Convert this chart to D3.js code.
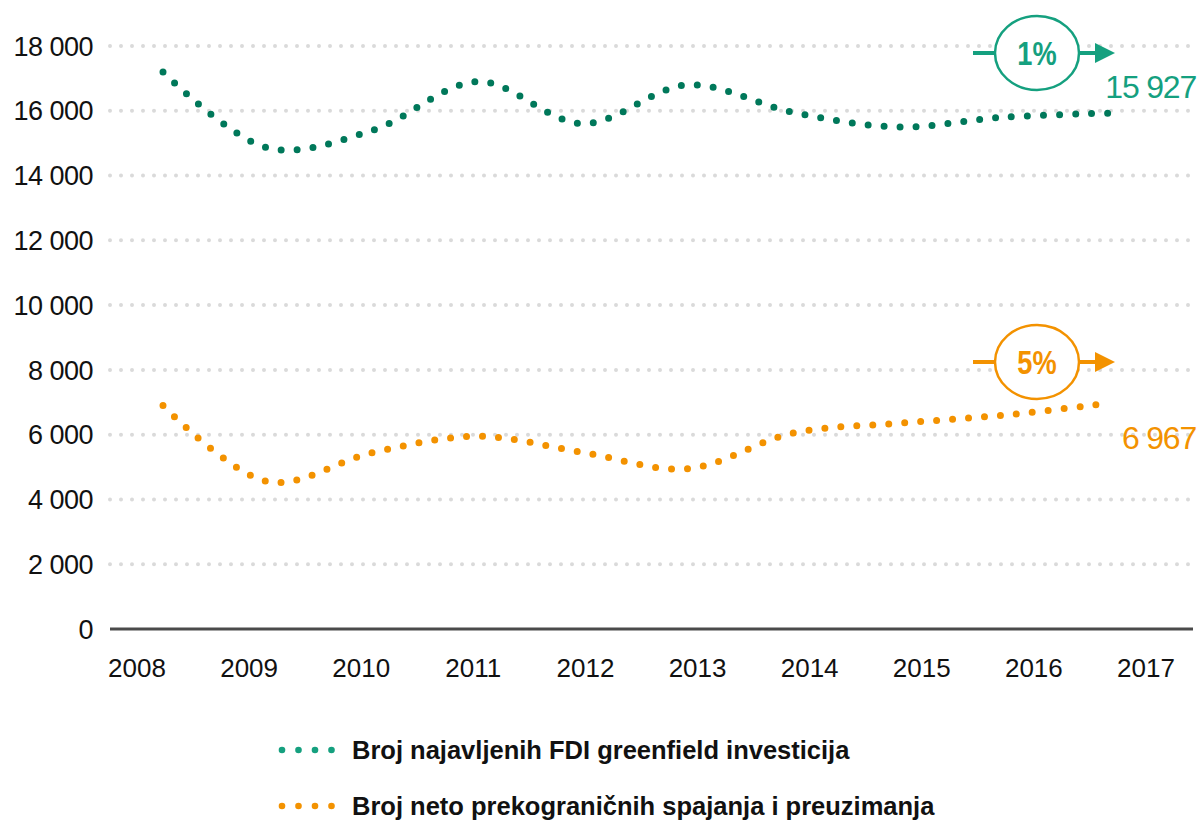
<!DOCTYPE html>
<html>

<head>
    <meta charset="UTF-8">
    <style>
        body { margin: 0; background: #fff; }
        text { font-family: "Liberation Sans", Arial, sans-serif; }
    </style>
</head>

<body>
    <div id="my_dataviz"></div>

    <script src="https://d3js.org/d3.v7.min.js"></script>
    <script>
        // data
        const years = [2008, 2009, 2010, 2011, 2012, 2013, 2014, 2015, 2016, 2017];
        const greenfield = [17200, 14850, 15400, 16900, 15600, 16800, 15950, 15500, 15800, 15927];
        const mergers = [6900, 4550, 5450, 5950, 5450, 4950, 6050, 6350, 6600, 6967];
        const yTicks = [0, 2000, 4000, 6000, 8000, 10000, 12000, 14000, 16000, 18000];
        const seriesNames = ["Broj najavljenih FDI greenfield investicija", "Broj neto prekograničnih spajanja i preuzimanja"];
        const growth = ["1%", "5%"];
        const lastLabels = ["15 927", "6 967"];

        const width = 1203, height = 821;
        const lineColors = ["#00785a", "#f39200"];
        const accentColors = ["#15a07f", "#f39200"];

        const svg = d3.select("#my_dataviz")
            .append("svg")
            .attr("width", width)
            .attr("height", height);

        const y = d3.scaleLinear().domain([0, 18000]).range([629, 46]);
        // where the points sit
        const x = d3.scalePoint().domain(years).range([163, 1108]);
        // where the year labels sit
        const xLab = d3.scalePoint().domain(years).range([137, 1146]);

        const fmt = v => d3.format(",")(v).replace(/,/g, " ");

        // grid
        svg.append("g")
            .selectAll("line")
            .data(yTicks.filter(d => d > 0))
            .enter().append("line")
            .attr("x1", 110).attr("x2", 1192)
            .attr("y1", d => y(d)).attr("y2", d => y(d))
            .attr("stroke", "#dadada")
            .attr("stroke-width", 4)
            .attr("stroke-linecap", "round")
            .attr("stroke-dasharray", "0,11");

        // y labels
        svg.append("g")
            .selectAll("text")
            .data(yTicks)
            .enter().append("text")
            .attr("x", 93)
            .attr("y", d => y(d))
            .attr("dy", "0.36em")
            .attr("text-anchor", "end")
            .style("font-size", "27px")
            .style("letter-spacing", "-0.5px")
            .attr("fill", "#111")
            .text(fmt);

        // baseline
        svg.append("line")
            .attr("x1", 110).attr("x2", 1193)
            .attr("y1", y(0)).attr("y2", y(0))
            .attr("stroke", "#4a4a4a")
            .attr("stroke-width", 3);

        // x labels
        svg.append("g")
            .selectAll("text")
            .data(years)
            .enter().append("text")
            .attr("x", d => xLab(d))
            .attr("y", 677)
            .attr("text-anchor", "middle")
            .style("font-size", "26px")
            .attr("fill", "#111")
            .text(d => d);

        // lines
        const line = d3.line()
            .x((d, i) => x(years[i]))
            .y(d => y(d))
            .curve(d3.curveCatmullRom.alpha(0.5));

        [greenfield, mergers].forEach((s, k) => {
            svg.append("path")
                .datum(s)
                .attr("d", line)
                .attr("fill", "none")
                .attr("stroke", lineColors[k])
                .attr("stroke-width", 7)
                .attr("stroke-linecap", "round")
                .attr("stroke-dasharray", "0,16");
        });

        // growth annotations
        const ann = [{ cy: 53 }, { cy: 362 }];
        ann.forEach((a, k) => {
            const g = svg.append("g").attr("transform", "translate(1037," + a.cy + ")");
            const c = accentColors[k];
            g.append("line").attr("x1", -64).attr("x2", -42).attr("y1", 0).attr("y2", 0)
                .attr("stroke", c).attr("stroke-width", 4);
            g.append("line").attr("x1", 42).attr("x2", 62).attr("y1", 0).attr("y2", 0)
                .attr("stroke", c).attr("stroke-width", 4);
            g.append("path").attr("d", "M58,-10 L78,0 L58,10 Z").attr("fill", c);
            g.append("ellipse").attr("rx", 42).attr("ry", 37)
                .attr("fill", "#fff").attr("stroke", c).attr("stroke-width", 2.5);
            g.append("text")
                .attr("text-anchor", "middle")
                .attr("dy", "0.36em")
                .attr("transform", "scale(0.8,1)")
                .style("font-size", "34px")
                .style("font-weight", "bold")
                .attr("fill", c)
                .text(growth[k]);
        });

        // last value labels
        const lastVals = [greenfield[9], mergers[9]];
        svg.append("g")
            .selectAll("text")
            .data(lastVals)
            .enter().append("text")
            .attr("x", 1196)
            .attr("y", (d, i) => i == 0 ? y(d) - 15 : y(d) + 46)
            .attr("text-anchor", "end")
            .style("font-size", "32px")
            .style("letter-spacing", "-1.2px")
            .attr("fill", (d, i) => accentColors[i])
            .text((d, i) => lastLabels[i]);

        // legend
        const legend = svg.selectAll(".legend")
            .data(seriesNames)
            .enter().append("g")
            .attr("class", "legend")
            .attr("transform", (d, i) => "translate(0," + (750 + i * 56) + ")");

        legend.each(function (d, i) {
            d3.select(this).selectAll("circle")
                .data([0, 1, 2, 3])
                .enter().append("circle")
                .attr("cx", j => 282 + j * 16.5)
                .attr("cy", 0)
                .attr("r", 3.3)
                .attr("fill", accentColors[i]);
        });

        legend.append("text")
            .attr("x", 352)
            .attr("y", 0)
            .attr("dy", "0.36em")
            .style("font-size", "25.5px")
            .style("font-weight", "bold")
            .attr("fill", "#111")
            .text(d => d);
    </script>
</body>

</html>
